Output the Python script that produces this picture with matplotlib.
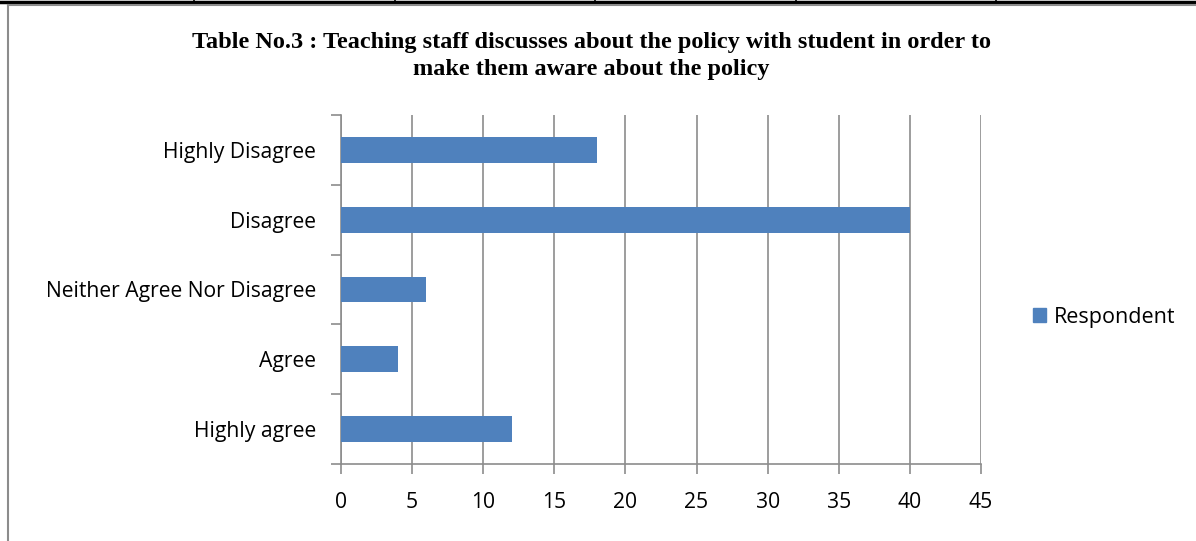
import matplotlib
matplotlib.use("Agg")
import matplotlib.pyplot as plt
from matplotlib.lines import Line2D
from matplotlib.patches import Rectangle

categories = ["Highly agree", "Agree", "Neither Agree Nor Disagree", "Disagree", "Highly Disagree"]
values = [12, 4, 6, 40, 18]
xticks = [0, 5, 10, 15, 20, 25, 30, 35, 40, 45]
series_name = "Respondent"
title = "Table No.3 : Teaching staff discusses about the policy with student in order to\nmake them aware about the policy"

W, H = 1196, 541
fig = plt.figure(figsize=(W / 100, H / 100), dpi=100)
fig.patch.set_facecolor("white")

# page decorations: table border at top and chart frame
fig.add_artist(Line2D([0, 1], [1 - 1.5 / H, 1 - 1.5 / H], color="black", lw=2.5))
for xs in [194, 395, 595, 796, 996]:
    fig.add_artist(Line2D([xs / W, xs / W], [1 - 3 / H, 1.0], color="black", lw=1.2))
fig.add_artist(Line2D([8 / W, 8 / W], [0, 1 - 5 / H], color="#8c8c8c", lw=1.5))
fig.add_artist(Line2D([8 / W, 1], [1 - 5 / H, 1 - 5 / H], color="#8c8c8c", lw=1.5))

ax = fig.add_axes([341 / W, 1 - 464 / H, (981 - 341) / W, (464 - 115) / H])
y = list(range(len(categories)))
ax.barh(y, values, height=0.37, color="#4F81BD", label=series_name, zorder=3)
ax.set_xlim(0, 45)
ax.set_ylim(-0.5, len(categories) - 0.5)
ax.set_xticks(xticks)
ax.set_xticklabels([str(t) for t in xticks])
ax.set_yticks(y)
ax.set_yticklabels(categories)
ax.set_yticks([i - 0.5 for i in range(len(categories) + 1)], minor=True)
ax.tick_params(axis="y", which="major", length=0, pad=18)
ax.tick_params(axis="y", which="minor", length=7, color="#8c8c8c", width=1.2)
ax.tick_params(axis="x", length=7, color="#8c8c8c", width=1.2, pad=13)
for lab in ax.get_xticklabels() + ax.get_yticklabels():
    lab.set_fontfamily("Open Sans")
    lab.set_fontsize(15.2)
    lab.set_color("black")
ax.grid(axis="x", color="#8c8c8c", lw=1.2, zorder=0)
for s in ["top", "right"]:
    ax.spines[s].set_visible(False)
for s in ["left", "bottom"]:
    ax.spines[s].set_color("#8c8c8c")
    ax.spines[s].set_linewidth(1.2)

fig.text(591 / W, 1 - 56 / H, title, ha="center", va="center", fontfamily="Liberation Serif",
         fontweight="bold", fontsize=17.5, linespacing=1.38)

leg = fig.legend(handles=[Rectangle((0, 0), 1, 1, color="#4F81BD")], labels=[series_name],
                 loc="center left", bbox_to_anchor=(1033 / W, 1 - 317 / H), frameon=False,
                 prop={"family": "Open Sans", "size": 15.5}, handlelength=0.6, handleheight=0.6,
                 handletextpad=0.35, borderpad=0, borderaxespad=0)

fig.savefig("out.png", dpi=100, facecolor="white")
